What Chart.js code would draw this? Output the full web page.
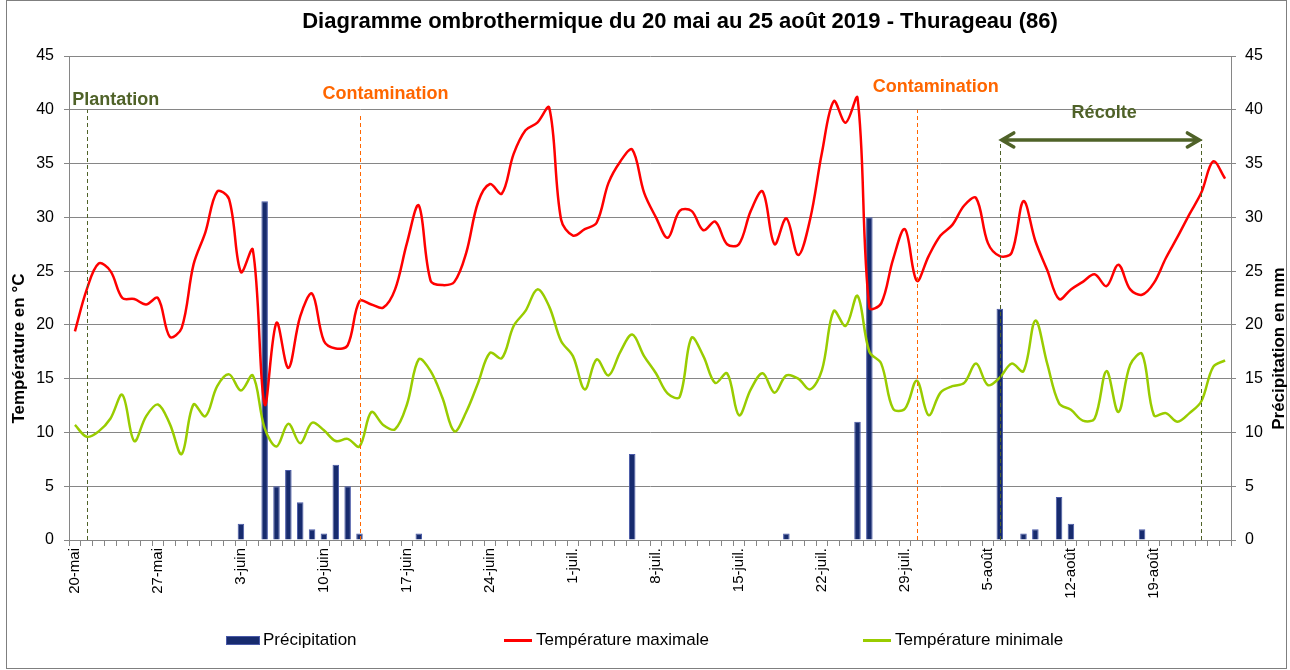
<!DOCTYPE html>
<html lang="fr">
<head>
<meta charset="utf-8">
<title>Diagramme ombrothermique - Thurageau</title>
<script src="https://cdn.jsdelivr.net/npm/chart.js@4.4.1/dist/chart.umd.min.js"></script>
<style>
  html, body { margin: 0; padding: 0; background: #fff; }
  #wrap { position: relative; width: 1290px; height: 670px; font-family: "Liberation Sans", Arial, sans-serif; }
  #frame { position: absolute; left: 6px; top: 0; width: 1281px; height: 669px; border: 1px solid #7f7f7f; box-sizing: border-box; }
  canvas { position: absolute; left: 0; top: 0; }
  #legend { position: absolute; left: 0; top: 630px; width: 1290px; height: 20px; font-size: 17px; color: #000; }
  .item { position: absolute; top: 0; height: 20px; display: flex; align-items: center; white-space: nowrap; }
  .box { width: 34px; height: 9px; background: #172b6e; border: 1px solid #4a5aa8; box-sizing: border-box; margin-right: 3px; }
  .ln { width: 28px; height: 3px; margin-right: 4px; }
</style>
</head>
<body>
<div id="wrap">
  <div id="frame"></div>
  <canvas id="chart" width="1290" height="670"></canvas>
  <div id="legend">
    <div class="item" style="left:226px"><span class="box"></span>Précipitation</div>
    <div class="item" style="left:504px"><span class="ln" style="background:#ff0000"></span>Température maximale</div>
    <div class="item" style="left:863px"><span class="ln" style="background:#99cc00"></span>Température minimale</div>
  </div>
</div>
<script>
const TITLE = "Diagramme ombrothermique du 20 mai au 25 août 2019 - Thurageau (86)";

// one label every 7 days, starting 20 May
const WEEK_LABELS = ["20-mai", "27-mai", "3-juin", "10-juin", "17-juin", "24-juin", "1-juil.",
  "8-juil.", "15-juil.", "22-juil.", "29-juil.", "5-août", "12-août", "19-août"];

// daily values, 20 May -> 25 Aug
const TMAX = [
  19.4, 23.3, 25.7, 25.0, 22.5, 22.4, 21.9, 22.5, 18.9, 19.7,
  25.6, 28.6, 32.4, 31.7, 24.9, 27.0, 12.6, 20.2, 16.0, 20.8,
  22.9, 18.5, 17.8, 18.1, 22.2, 21.9, 21.6, 23.3, 27.6, 31.1,
  24.1, 23.7, 24.0, 26.7, 31.4, 33.1, 32.2, 35.9, 38.1, 38.8,
  40.2, 29.8, 28.3, 28.9, 29.5, 33.2, 35.2, 36.3, 32.3, 30.0,
  28.1, 30.6, 30.6, 28.8, 29.6, 27.5, 27.5, 30.6, 32.4, 27.5,
  29.9, 26.5, 29.8, 36.0, 40.8, 38.8, 41.1, 21.6, 22.0, 26.1,
  28.9, 24.1, 26.4, 28.3, 29.3, 31.1, 31.8, 27.6, 26.4, 26.7,
  31.5, 27.8, 25.1, 22.4, 23.3, 24.0, 24.7, 23.6, 25.6, 23.3,
  22.8, 23.9, 26.2, 28.2, 30.3, 32.3, 35.2, 33.6
];

const TMIN = [
  10.7, 9.6, 10.1, 11.3, 13.5, 9.2, 11.5, 12.6, 10.8, 8.0,
  12.6, 11.5, 14.3, 15.4, 13.9, 15.3, 10.4, 8.7, 10.8, 9.0,
  10.9, 10.2, 9.2, 9.4, 8.7, 11.9, 10.7, 10.3, 12.6, 16.8,
  15.7, 13.2, 10.1, 11.9, 14.6, 17.4, 16.9, 19.9, 21.3, 23.3,
  21.7, 18.5, 17.1, 14.0, 16.8, 15.3, 17.5, 19.1, 17.1, 15.5,
  13.6, 13.3, 18.8, 17.1, 14.6, 15.5, 11.6, 14.0, 15.5, 13.7,
  15.3, 15.0, 14.0, 15.8, 21.3, 19.9, 22.7, 17.5, 16.4, 12.2,
  12.2, 14.8, 11.6, 13.7, 14.3, 14.6, 16.4, 14.4, 15.1, 16.4,
  15.7, 20.4, 16.4, 12.7, 12.1, 11.1, 11.3, 15.7, 11.9, 16.3,
  17.3, 11.6, 11.8, 11.0, 11.8, 12.9, 16.1, 16.7
];

const PRECIP = [
  0, 0, 0, 0, 0, 0, 0, 0, 0, 0,
  0, 0, 0, 0, 1.5, 0, 31.5, 5, 6.5, 3.5,
  1, 0.6, 7, 5, 0.6, 0, 0, 0, 0, 0.6,
  0, 0, 0, 0, 0, 0, 0, 0, 0, 0,
  0, 0, 0, 0, 0, 0, 0, 8, 0, 0,
  0, 0, 0, 0, 0, 0, 0, 0, 0, 0,
  0.6, 0, 0, 0, 0, 0, 11, 30, 0, 0,
  0, 0, 0, 0, 0, 0, 0, 0, 21.5, 0,
  0.6, 1, 0, 4, 1.5, 0, 0, 0, 0, 0,
  1, 0, 0, 0, 0, 0, 0, 0
];

const DAYS = TMAX.map((_, i) => i);

const OLIVE = "#4f6228";
const ORANGE = "#ff6600";
const FONT = "'Liberation Sans', Arial, sans-serif";

// events: day index, top of the dashed line (°C)
const EVENTS = [
  { day: 1,  top: 40,   color: OLIVE },
  { day: 24, top: 39.5, color: ORANGE },
  { day: 71, top: 40,   color: ORANGE },
  { day: 78, top: 37.2, color: OLIVE },
  { day: 95, top: 37.2, color: OLIVE },
];
const EVENT_TEXT = [
  { text: "Plantation",    day: 3.45, val: 40.9, color: OLIVE },
  { text: "Contamination", day: 26.2, val: 41.5, color: ORANGE },
  { text: "Contamination", day: 72.6, val: 42.1, color: ORANGE },
  { text: "Récolte",       day: 86.8, val: 39.7, color: OLIVE },
];
const HARVEST = { from: 78, to: 95, val: 37.2 };

// axis titles sit a bit below the middle of the plot, as in Excel
const AXIS_TITLES = { left: "Température en °C", right: "Précipitation en mm", val: 17.8 };

const markers = {
  id: "markers",
  afterDatasetsDraw(chart) {
    const { ctx, scales: { x, y } } = chart;
    ctx.save();
    ctx.lineWidth = 1;
    ctx.setLineDash([4, 3]);
    EVENTS.forEach((e) => {
      const px = Math.round(x.getPixelForValue(e.day)) + 0.5;
      ctx.strokeStyle = e.color;
      ctx.beginPath();
      ctx.moveTo(px, y.getPixelForValue(0));
      ctx.lineTo(px, y.getPixelForValue(e.top));
      ctx.stroke();
    });
    ctx.setLineDash([]);

    // harvest double arrow
    const x1 = x.getPixelForValue(HARVEST.from);
    const x2 = x.getPixelForValue(HARVEST.to);
    const ay = y.getPixelForValue(HARVEST.val);
    ctx.strokeStyle = OLIVE;
    ctx.lineWidth = 3.5;
    ctx.lineCap = "round";
    ctx.beginPath();
    ctx.moveTo(x1 + 2, ay); ctx.lineTo(x2 - 2, ay);
    ctx.moveTo(x1 + 14, ay - 7); ctx.lineTo(x1 + 2, ay); ctx.lineTo(x1 + 14, ay + 7);
    ctx.moveTo(x2 - 14, ay - 7); ctx.lineTo(x2 - 2, ay); ctx.lineTo(x2 - 14, ay + 7);
    ctx.stroke();

    ctx.font = "bold 18px " + FONT;
    ctx.textAlign = "center";
    ctx.textBaseline = "middle";
    EVENT_TEXT.forEach((t) => {
      ctx.fillStyle = t.color;
      ctx.fillText(t.text, x.getPixelForValue(t.day), y.getPixelForValue(t.val));
    });

    // chart title, a little right of centre like the Excel original
    ctx.fillStyle = "#000";
    ctx.font = "bold 22px " + FONT;
    ctx.fillText(TITLE, 680, 22);

    // axis titles
    const ty = y.getPixelForValue(AXIS_TITLES.val);
    ctx.font = "bold 17px " + FONT;
    ctx.save();
    ctx.translate(19, ty);
    ctx.rotate(-Math.PI / 2);
    ctx.fillText(AXIS_TITLES.left, 0, 0);
    ctx.restore();
    ctx.save();
    ctx.translate(1279, ty);
    ctx.rotate(-Math.PI / 2);
    ctx.fillText(AXIS_TITLES.right, 0, 0);
    ctx.restore();
    ctx.restore();
  },
};

Chart.defaults.font.family = FONT;
Chart.defaults.color = "#000";

new Chart(document.getElementById("chart"), {
  type: "bar",
  data: {
    labels: DAYS,
    datasets: [
      {
        type: "line",
        label: "Température maximale",
        data: TMAX,
        yAxisID: "y",
        borderColor: "#ff0000",
        borderWidth: 2.5,
        pointRadius: 0,
        tension: 0.35,
        order: 1,
      },
      {
        type: "line",
        label: "Température minimale",
        data: TMIN,
        yAxisID: "y",
        borderColor: "#99cc00",
        borderWidth: 2.5,
        pointRadius: 0,
        tension: 0.35,
        order: 2,
      },
      {
        type: "bar",
        label: "Précipitation",
        data: PRECIP.map((v) => (v ? v : null)),
        yAxisID: "y2",
        backgroundColor: "#172b6e",
        borderColor: "#4a5aa8",
        borderWidth: 1,
        barPercentage: 0.55,
        categoryPercentage: 1,
        order: 3,
      },
    ],
  },
  options: {
    responsive: false,
    animation: false,
    layout: { padding: { top: 56, left: 6, right: 3, bottom: 0 } },
    plugins: {
      legend: { display: false },
      tooltip: { enabled: false },
      title: { display: false },
    },
    scales: {
      x: {
        grid: { offset: true, drawOnChartArea: false, tickLength: 6, color: "#868686" },
        border: { color: "#868686" },
        ticks: {
          autoSkip: false,
          maxRotation: 90,
          minRotation: 90,
          padding: 2,
          font: { size: 15 },
          color: "#000",
          callback: (v, i) => (i % 7 === 0 ? WEEK_LABELS[i / 7] : ""),
        },
        afterFit: (s) => { s.height = 130; },
      },
      y: {
        position: "left",
        min: 0,
        max: 45,
        ticks: { stepSize: 5, padding: 10, font: { size: 16 }, color: "#000" },
        grid: { color: "#868686", tickLength: 5 },
        border: { color: "#868686" },
        afterFit: (s) => { s.width = 63; },
      },
      y2: {
        position: "right",
        min: 0,
        max: 45,
        ticks: { stepSize: 5, padding: 9, font: { size: 16 }, color: "#000" },
        grid: { drawOnChartArea: false, color: "#868686", tickLength: 5 },
        border: { color: "#868686" },
        afterFit: (s) => { s.width = 56; },
      },
    },
  },
  plugins: [markers],
});
</script>
</body>
</html>
